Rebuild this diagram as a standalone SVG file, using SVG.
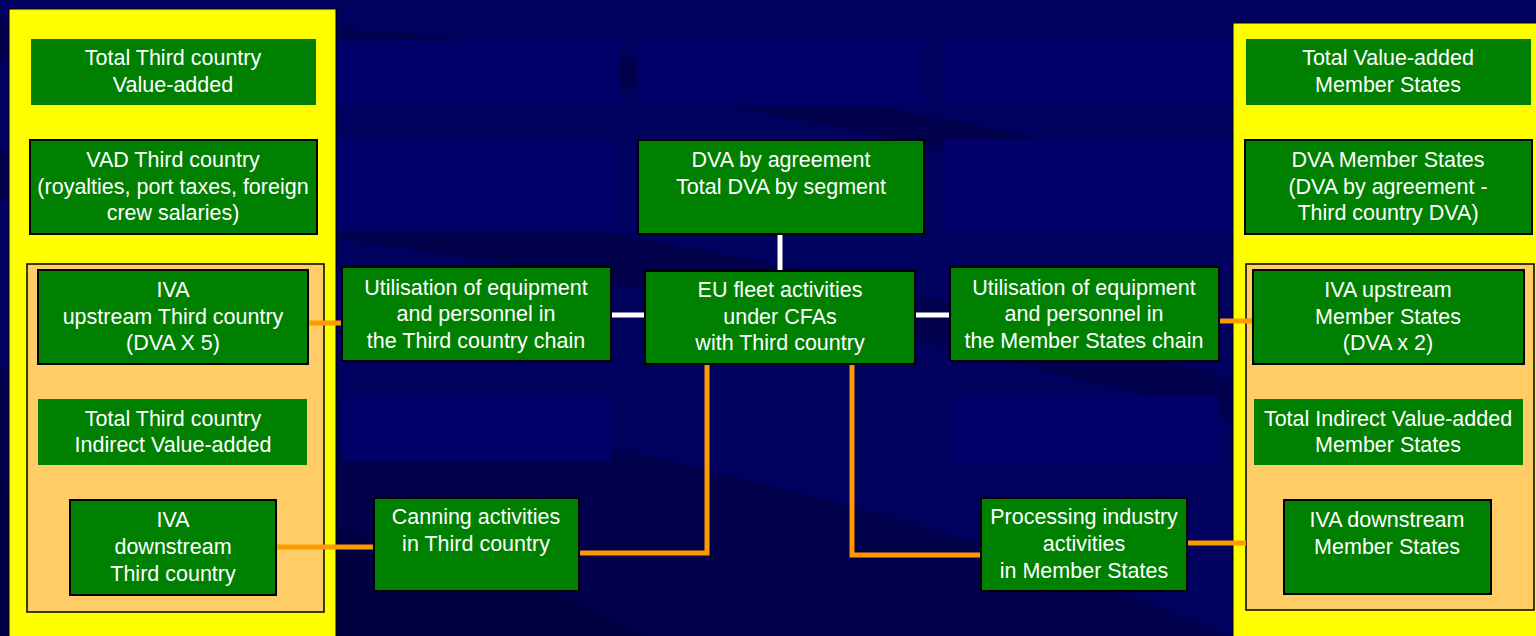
<svg xmlns="http://www.w3.org/2000/svg" width="1536" height="636" viewBox="0 0 1536 636">
<style>
.bg{fill:#00005e}
.patch{fill:#000068}
.swoosh{fill:#000036;opacity:0.45}
.panel{fill:#ffff00;stroke:#000;stroke-width:1}
.inner{fill:#ffcc66;stroke:#000;stroke-width:1.5}
.box{fill:#008000;stroke:#000;stroke-width:2}
.flat{fill:#008000}
text{font-family:"Liberation Sans",Arial,sans-serif;font-size:21.5px;fill:#fff;text-anchor:middle}
.w{stroke:#fff;stroke-width:5;fill:none}
.o{stroke:#ff9900;stroke-width:5;fill:none}
</style>
<rect class="bg" x="0" y="0" width="1536" height="636"/>
<g id="background">
<path class="swoosh" d="M0 20 C200 20 500 30 700 70 C900 110 1050 140 1230 180 L1230 205 C1050 170 900 140 700 100 C500 60 250 60 0 60 Z"/>
<path class="swoosh" d="M0 150 C250 170 500 210 750 260 C950 300 1100 340 1230 380 L1230 420 C1100 380 950 345 750 310 C500 260 250 220 0 200 Z"/>
<path class="swoosh" d="M0 370 C250 380 500 420 750 480 C950 530 1100 580 1230 636 L0 636 Z"/>
<path class="swoosh" d="M0 480 C250 500 450 540 650 636 L0 636 Z"/>
<rect class="patch" x="336" y="39" width="284" height="66"/>
<rect class="patch" x="638" y="39" width="285" height="66"/>
<rect class="patch" x="942" y="39" width="287" height="66"/>
<rect class="patch" x="336" y="139" width="284" height="93"/>
<rect class="patch" x="942" y="139" width="287" height="93"/>
<rect class="patch" x="342" y="396" width="269" height="66"/>
<rect class="patch" x="950" y="396" width="269" height="66"/>
</g>
<g id="panel-third-country">
<rect class="panel" x="9" y="9" width="327" height="640"/>
<rect class="inner" x="27" y="264" width="297" height="348"/>
</g>
<g id="panel-member-states">
<rect class="panel" x="1233" y="23" width="320" height="640"/>
<rect class="inner" x="1246" y="264" width="288" height="346"/>
</g>
<g id="connectors">
<line class="w" x1="780" y1="234" x2="780" y2="271"/>
<line class="w" x1="611" y1="315" x2="645" y2="315"/>
<line class="w" x1="915" y1="315" x2="950" y2="315"/>
<line class="o" x1="308" y1="323" x2="342" y2="323"/>
<line class="o" x1="276" y1="547" x2="374" y2="547"/>
<polyline class="o" points="707,364 707,553 579,553"/>
<polyline class="o" points="852,364 852,555 981,555"/>
<line class="o" x1="1219" y1="321" x2="1253" y2="321"/>
<line class="o" x1="1187" y1="543" x2="1246" y2="543"/>
</g>
<g id="n-total-tc-va">
<rect class="flat" x="31" y="39" width="285" height="66"/>
<text x="173" y="65">Total Third country</text>
<text x="173" y="92">Value-added</text>
</g>
<g id="n-vad-tc">
<rect class="box" x="30" y="140" width="287" height="94"/>
<text x="173" y="167">VAD Third country</text>
<text x="173" y="194">(royalties, port taxes, foreign</text>
<text x="173" y="220">crew salaries)</text>
</g>
<g id="n-iva-up-tc">
<rect class="box" x="38" y="270" width="270" height="94"/>
<text x="173" y="297">IVA</text>
<text x="173" y="324">upstream Third country</text>
<text x="173" y="350">(DVA X 5)</text>
</g>
<g id="n-total-tc-iva">
<rect class="flat" x="38" y="399" width="269" height="66"/>
<text x="173" y="426">Total Third country</text>
<text x="173" y="452">Indirect Value-added</text>
</g>
<g id="n-iva-down-tc">
<rect class="box" x="70" y="500" width="206" height="95"/>
<text x="173" y="527">IVA</text>
<text x="173" y="554">downstream</text>
<text x="173" y="581">Third country</text>
</g>
<g id="n-dva-agreement">
<rect class="box" x="638" y="140" width="286" height="94"/>
<text x="781" y="167">DVA by agreement</text>
<text x="781" y="194">Total DVA by segment</text>
</g>
<g id="n-util-tc">
<rect class="box" x="342" y="267" width="269" height="94"/>
<text x="476" y="295">Utilisation of equipment</text>
<text x="476" y="321">and personnel in</text>
<text x="476" y="348">the Third country chain</text>
</g>
<g id="n-eu-fleet">
<rect class="box" x="645" y="271" width="270" height="93"/>
<text x="780" y="297">EU fleet activities</text>
<text x="780" y="324">under CFAs</text>
<text x="780" y="350">with Third country</text>
</g>
<g id="n-util-ms">
<rect class="box" x="950" y="267" width="269" height="94"/>
<text x="1084" y="295">Utilisation of equipment</text>
<text x="1084" y="321">and personnel in</text>
<text x="1084" y="348">the Member States chain</text>
</g>
<g id="n-canning">
<rect class="box" x="374" y="498" width="205" height="93"/>
<text x="476" y="524">Canning activities</text>
<text x="476" y="551">in Third country</text>
</g>
<g id="n-processing">
<rect class="box" x="981" y="498" width="206" height="93"/>
<text x="1084" y="524">Processing industry</text>
<text x="1084" y="551">activities</text>
<text x="1084" y="578">in Member States</text>
</g>
<g id="n-total-ms-va">
<rect class="flat" x="1246" y="39" width="285" height="66"/>
<text x="1388" y="65">Total Value-added</text>
<text x="1388" y="92">Member States</text>
</g>
<g id="n-dva-ms">
<rect class="box" x="1245" y="140" width="287" height="94"/>
<text x="1388" y="167">DVA Member States</text>
<text x="1388" y="194">(DVA by agreement -</text>
<text x="1388" y="220">Third country DVA)</text>
</g>
<g id="n-iva-up-ms">
<rect class="box" x="1253" y="270" width="271" height="94"/>
<text x="1388" y="297">IVA upstream</text>
<text x="1388" y="324">Member States</text>
<text x="1388" y="350">(DVA x 2)</text>
</g>
<g id="n-total-ms-iva">
<rect class="flat" x="1254" y="399" width="269" height="66"/>
<text x="1388" y="426">Total Indirect Value-added</text>
<text x="1388" y="452">Member States</text>
</g>
<g id="n-iva-down-ms">
<rect class="box" x="1284" y="500" width="207" height="94"/>
<text x="1387" y="527">IVA downstream</text>
<text x="1387" y="554">Member States</text>
</g>
</svg>
